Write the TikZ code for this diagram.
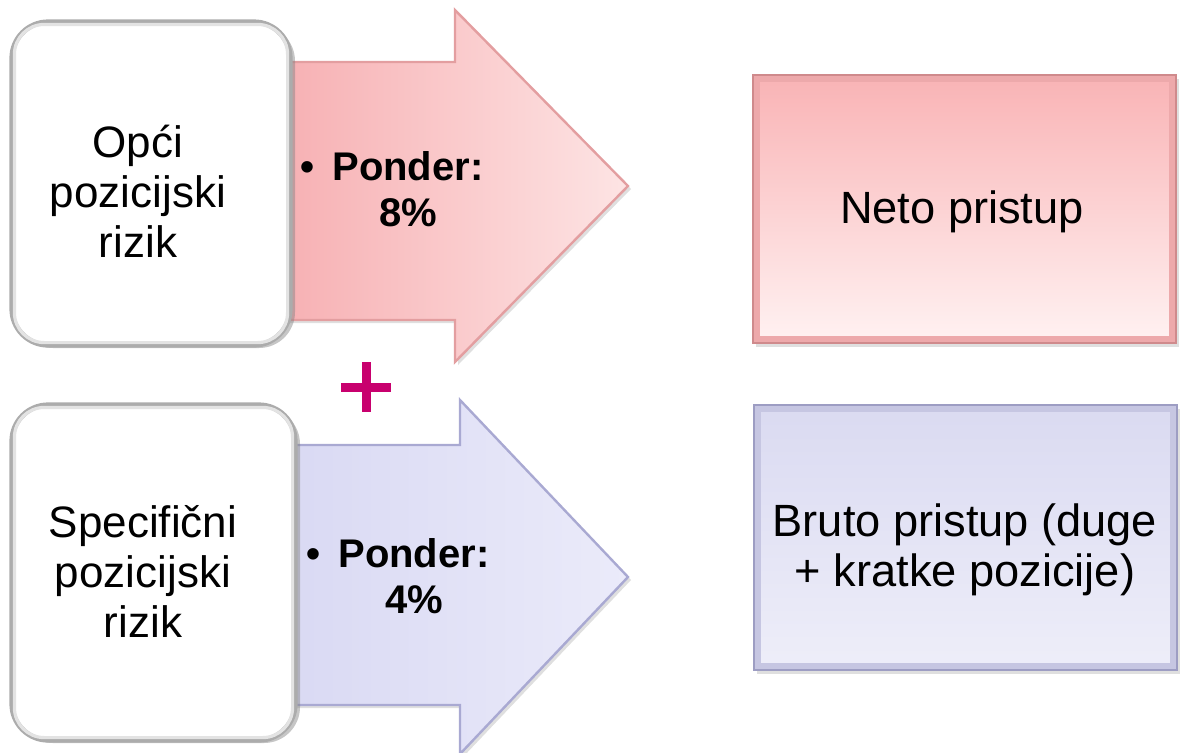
\documentclass[tikz,border=0pt]{standalone}
\usepackage{fontspec}
\setmainfont{Liberation Sans}
\usetikzlibrary{shadows,calc}
\definecolor{pinkL}{HTML}{F7B0B3}
\definecolor{pinkR}{HTML}{FDE4E4}
\definecolor{pinkEdge}{HTML}{E39EA0}
\definecolor{blueL}{HTML}{D9D9F3}
\definecolor{blueR}{HTML}{EBEBFA}
\definecolor{blueEdge}{HTML}{A9A9D2}
\definecolor{boxPinkT}{HTML}{F9B3B5}
\definecolor{boxPinkB}{HTML}{FFF2F2}
\definecolor{boxPinkEdge}{HTML}{CF8A8C}
\definecolor{boxPinkBand}{HTML}{EDA9AB}
\definecolor{boxBlueT}{HTML}{DADAF1}
\definecolor{boxBlueB}{HTML}{EEEEF9}
\definecolor{boxBlueEdge}{HTML}{9D9DC3}
\definecolor{boxBlueBand}{HTML}{C6C6E2}
\definecolor{plusCol}{HTML}{C8006E}
\begin{document}
\begin{tikzpicture}[x=0.5pt,y=-0.5pt,
  arrowshape/.style={line width=1.2pt, line join=miter, drop shadow={opacity=0.25,shadow xshift=1.5pt,shadow yshift=-1.5pt}},
  leftbox/.style={draw=gray!65, line width=2.6pt, fill=white, rounded corners=18pt, inner sep=0pt, drop shadow={opacity=0.45,shadow xshift=2.5pt,shadow yshift=-1.5pt}},
  rightbox/.style={line width=1.4pt, minimum width=211.5pt, inner sep=0pt, drop shadow={opacity=0.25,shadow xshift=1.5pt,shadow yshift=-2pt}},
  lefttext/.style={font=\fontsize{22}{25}\selectfont, align=center, inner sep=0pt},
  pondertext/.style={font=\fontsize{20}{23}\selectfont\bfseries, align=center, inner sep=0pt},
  righttext/.style={font=\fontsize{22.6}{25}\selectfont, align=center, inner sep=0pt},
  bevel/.style={line width=3pt},
]
\useasboundingbox (0,0) rectangle (1180,752);

% arrows
\path[arrowshape, draw=pinkEdge, left color=pinkL, right color=pinkR]
  (280,62) -- (455,62) -- (455,10) -- (628,186) -- (455,362) -- (455,320) -- (280,320) -- cycle;
\path[arrowshape, draw=blueEdge, left color=blueL, right color=blueR]
  (285,445) -- (460,445) -- (460,400) -- (628,577) -- (460,754) -- (460,705) -- (285,705) -- cycle;

% left boxes
\node[leftbox, minimum width=139pt, minimum height=161.5pt] (b1) at (151,183.5) {};
\draw[gray!22, line width=1.6pt, rounded corners=15pt] ($(b1.north west)+(5,5)$) rectangle ($(b1.south east)+(-5,-5)$);
\node[leftbox, minimum width=141.5pt, minimum height=167.5pt] (b2) at (153.5,572.5) {};
\draw[gray!22, line width=1.6pt, rounded corners=15pt] ($(b2.north west)+(5,5)$) rectangle ($(b2.south east)+(-5,-5)$);

% right boxes
\node[rightbox, draw=boxPinkEdge, top color=boxPinkT, bottom color=boxPinkB, minimum height=134pt] (r1) at (964.5,209) {};
\draw[bevel, boxPinkBand] ($(r1.north west)+(5,5)$) rectangle ($(r1.south east)+(-5,-5)$);
\node[rightbox, draw=boxBlueEdge, top color=boxBlueT, bottom color=boxBlueB, minimum height=132.5pt] (r2) at (965.5,537.5) {};
\draw[bevel, boxBlueBand] ($(r2.north west)+(5,5)$) rectangle ($(r2.south east)+(-5,-5)$);

% texts
\node[lefttext] (t1) at (138,191) {Opći\\pozicijski\\rizik};
\node[lefttext] (t2) at (143,571) {Specifični\\pozicijski\\rizik};
\node[pondertext] (p1) at (408,189) {\makebox[0pt][r]{\textbullet\hspace{9pt}}Ponder:\\8\%};
\node[pondertext] (p2) at (414,576) {\makebox[0pt][r]{\textbullet\hspace{9pt}}Ponder:\\4\%};
\node[righttext] (n1) at (962,212) {Neto pristup};
\node[righttext] (n2) at (965,550) {Bruto pristup (duge\\+ kratke pozicije)};

% plus sign
\coordinate (plus) at (366,387);
\draw[plusCol, line width=4.5pt] ($(plus)+(-25,0)$) -- ($(plus)+(25,0)$);
\draw[plusCol, line width=4.5pt] ($(plus)+(0,-25)$) -- ($(plus)+(0,25)$);
\end{tikzpicture}
\end{document}
